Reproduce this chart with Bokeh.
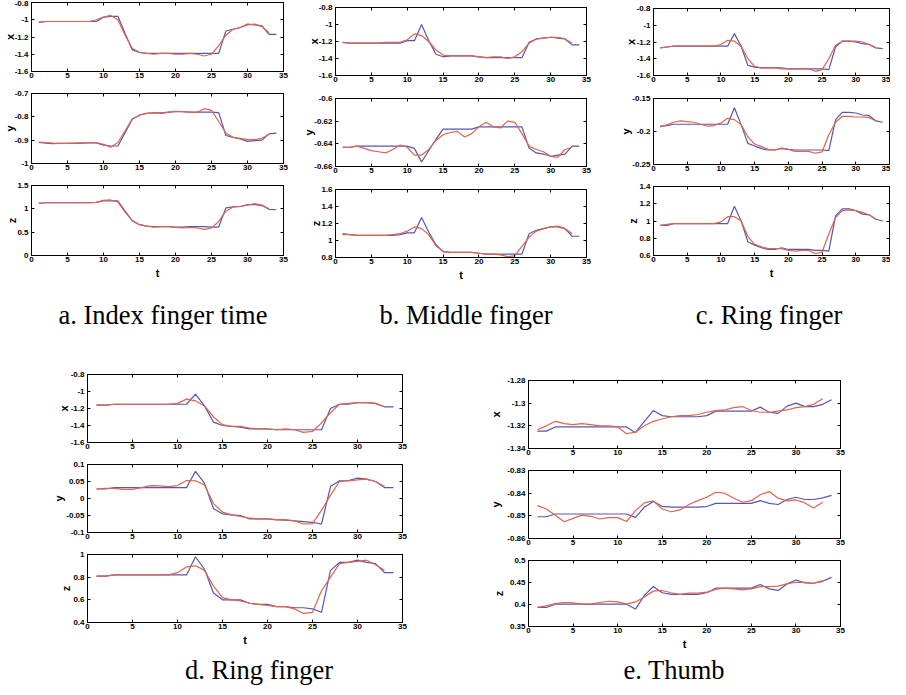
from bokeh.plotting import figure
from bokeh.models import LinearAxis, FixedTicker, Range1d, Spacer, Div
from bokeh.layouts import column, row
from bokeh.embed import file_html
from bokeh.resources import INLINE

# ---------------- data ----------------
t_blue = list(range(1, 35))
t_red = list(range(1, 34))
x_ticks = [0, 5, 10, 15, 20, 25, 30, 35]

# a. Index finger
a_x_blue = [-1.03, -1.02, -1.02, -1.02, -1.02, -1.02, -1.02, -1.02, -1.02, -0.97, -0.96, -0.96, -1.16, -1.35, -1.38, -1.39, -1.39, -1.39, -1.39, -1.39, -1.39, -1.39, -1.39, -1.39, -1.39, -1.39, -1.13, -1.11, -1.09, -1.05, -1.06, -1.07, -1.17, -1.17]
a_x_red = [-1.03, -1.02, -1.02, -1.02, -1.02, -1.02, -1.02, -1.02, -1.00, -0.97, -0.95, -1.00, -1.18, -1.33, -1.38, -1.39, -1.40, -1.39, -1.39, -1.40, -1.40, -1.39, -1.40, -1.42, -1.40, -1.30, -1.18, -1.11, -1.09, -1.06, -1.05, -1.08, -1.15]
a_y_blue = [-0.910, -0.913, -0.915, -0.914, -0.914, -0.914, -0.913, -0.912, -0.912, -0.921, -0.925, -0.925, -0.868, -0.810, -0.792, -0.785, -0.783, -0.783, -0.780, -0.778, -0.778, -0.780, -0.780, -0.780, -0.780, -0.782, -0.880, -0.888, -0.895, -0.905, -0.902, -0.900, -0.873, -0.870]
a_y_red = [-0.908, -0.910, -0.913, -0.914, -0.914, -0.913, -0.912, -0.911, -0.910, -0.918, -0.930, -0.910, -0.860, -0.808, -0.793, -0.785, -0.783, -0.785, -0.781, -0.776, -0.778, -0.780, -0.781, -0.765, -0.772, -0.820, -0.870, -0.888, -0.892, -0.898, -0.898, -0.892, -0.875]
a_z_blue = [1.12, 1.13, 1.13, 1.13, 1.13, 1.13, 1.13, 1.13, 1.14, 1.17, 1.17, 1.17, 0.95, 0.75, 0.66, 0.63, 0.62, 0.62, 0.62, 0.61, 0.61, 0.62, 0.62, 0.62, 0.61, 0.61, 1.02, 1.04, 1.05, 1.09, 1.09, 1.07, 0.99, 0.98]
a_z_red = [1.12, 1.13, 1.13, 1.13, 1.13, 1.13, 1.13, 1.13, 1.14, 1.18, 1.19, 1.15, 0.93, 0.74, 0.66, 0.63, 0.61, 0.62, 0.62, 0.60, 0.59, 0.60, 0.59, 0.56, 0.59, 0.73, 0.95, 1.04, 1.05, 1.08, 1.11, 1.08, 1.00]

# b. Middle finger
b_x_blue = [-1.21, -1.22, -1.22, -1.22, -1.22, -1.22, -1.22, -1.22, -1.22, -1.19, -1.19, -1.00, -1.19, -1.35, -1.38, -1.37, -1.37, -1.37, -1.37, -1.38, -1.39, -1.39, -1.39, -1.39, -1.39, -1.39, -1.21, -1.17, -1.16, -1.15, -1.16, -1.17, -1.24, -1.24]
b_x_red = [-1.21, -1.22, -1.22, -1.22, -1.22, -1.22, -1.21, -1.21, -1.21, -1.18, -1.11, -1.13, -1.20, -1.30, -1.36, -1.37, -1.37, -1.37, -1.37, -1.38, -1.39, -1.38, -1.38, -1.40, -1.38, -1.32, -1.22, -1.17, -1.16, -1.15, -1.15, -1.17, -1.22]
b_y_blue = [-0.643, -0.643, -0.642, -0.642, -0.642, -0.642, -0.642, -0.642, -0.642, -0.642, -0.644, -0.656, -0.646, -0.636, -0.627, -0.627, -0.627, -0.627, -0.627, -0.625, -0.625, -0.625, -0.625, -0.625, -0.625, -0.625, -0.644, -0.648, -0.649, -0.651, -0.650, -0.649, -0.642, -0.642]
b_y_red = [-0.643, -0.643, -0.642, -0.644, -0.646, -0.647, -0.648, -0.645, -0.641, -0.643, -0.650, -0.650, -0.645, -0.637, -0.632, -0.630, -0.629, -0.634, -0.631, -0.625, -0.621, -0.625, -0.626, -0.620, -0.621, -0.631, -0.642, -0.645, -0.647, -0.651, -0.652, -0.645, -0.643]
b_z_blue = [1.08, 1.07, 1.06, 1.06, 1.06, 1.06, 1.06, 1.06, 1.07, 1.09, 1.09, 1.27, 1.10, 0.95, 0.87, 0.86, 0.86, 0.86, 0.86, 0.85, 0.84, 0.84, 0.84, 0.84, 0.84, 0.84, 1.08, 1.12, 1.14, 1.16, 1.16, 1.14, 1.05, 1.05]
b_z_red = [1.07, 1.07, 1.06, 1.06, 1.06, 1.06, 1.06, 1.07, 1.08, 1.11, 1.16, 1.14, 1.07, 0.94, 0.87, 0.86, 0.86, 0.86, 0.86, 0.85, 0.84, 0.84, 0.83, 0.81, 0.82, 0.93, 1.04, 1.11, 1.14, 1.16, 1.17, 1.14, 1.08]

# c. Ring finger
c_x_blue = [-1.27, -1.26, -1.25, -1.25, -1.25, -1.25, -1.25, -1.25, -1.25, -1.25, -1.25, -1.10, -1.25, -1.48, -1.50, -1.51, -1.51, -1.51, -1.51, -1.52, -1.52, -1.52, -1.52, -1.52, -1.52, -1.53, -1.26, -1.19, -1.19, -1.20, -1.22, -1.23, -1.27, -1.28]
c_x_red = [-1.27, -1.26, -1.25, -1.25, -1.25, -1.25, -1.25, -1.25, -1.25, -1.23, -1.18, -1.19, -1.25, -1.40, -1.49, -1.51, -1.51, -1.51, -1.52, -1.52, -1.52, -1.52, -1.52, -1.55, -1.53, -1.40, -1.24, -1.19, -1.19, -1.19, -1.20, -1.23, -1.27]
c_y_blue = [-0.192, -0.191, -0.189, -0.189, -0.189, -0.189, -0.189, -0.189, -0.189, -0.189, -0.189, -0.164, -0.190, -0.218, -0.222, -0.226, -0.228, -0.228, -0.225, -0.227, -0.228, -0.228, -0.228, -0.228, -0.228, -0.229, -0.182, -0.171, -0.171, -0.172, -0.175, -0.176, -0.184, -0.186]
c_y_red = [-0.193, -0.190, -0.186, -0.184, -0.185, -0.186, -0.189, -0.192, -0.191, -0.187, -0.180, -0.182, -0.190, -0.208, -0.219, -0.223, -0.227, -0.228, -0.226, -0.227, -0.230, -0.230, -0.230, -0.233, -0.231, -0.205, -0.186, -0.177, -0.177, -0.178, -0.178, -0.179, -0.184]
c_z_blue = [0.95, 0.95, 0.97, 0.97, 0.97, 0.97, 0.97, 0.97, 0.97, 0.97, 0.97, 1.17, 1.00, 0.76, 0.72, 0.69, 0.67, 0.67, 0.69, 0.67, 0.67, 0.67, 0.67, 0.66, 0.66, 0.65, 1.06, 1.14, 1.14, 1.12, 1.08, 1.07, 1.02, 1.00]
c_z_red = [0.95, 0.96, 0.97, 0.97, 0.97, 0.97, 0.97, 0.97, 0.97, 0.99, 1.05, 1.05, 1.00, 0.82, 0.73, 0.70, 0.68, 0.68, 0.68, 0.66, 0.65, 0.66, 0.66, 0.62, 0.64, 0.85, 1.04, 1.12, 1.13, 1.12, 1.10, 1.07, 1.02]

# d. Ring finger
d_x_blue = [-1.16, -1.16, -1.15, -1.15, -1.15, -1.15, -1.15, -1.15, -1.15, -1.15, -1.15, -1.03, -1.17, -1.36, -1.40, -1.41, -1.42, -1.44, -1.44, -1.44, -1.45, -1.45, -1.45, -1.45, -1.45, -1.45, -1.20, -1.15, -1.15, -1.13, -1.13, -1.14, -1.18, -1.18]
d_x_red = [-1.16, -1.16, -1.15, -1.15, -1.15, -1.15, -1.15, -1.15, -1.15, -1.14, -1.09, -1.11, -1.17, -1.30, -1.39, -1.41, -1.41, -1.43, -1.44, -1.44, -1.45, -1.44, -1.45, -1.48, -1.47, -1.37, -1.25, -1.15, -1.14, -1.13, -1.13, -1.14, -1.18]
d_y_blue = [0.028, 0.028, 0.032, 0.032, 0.032, 0.032, 0.032, 0.032, 0.032, 0.032, 0.032, 0.080, 0.045, -0.030, -0.045, -0.048, -0.050, -0.060, -0.060, -0.060, -0.063, -0.064, -0.066, -0.068, -0.070, -0.075, 0.035, 0.052, 0.053, 0.060, 0.057, 0.050, 0.032, 0.032]
d_y_red = [0.028, 0.030, 0.030, 0.027, 0.027, 0.032, 0.038, 0.037, 0.035, 0.038, 0.053, 0.052, 0.040, -0.015, -0.040, -0.048, -0.053, -0.058, -0.060, -0.060, -0.062, -0.062, -0.066, -0.075, -0.074, -0.035, 0.010, 0.050, 0.052, 0.055, 0.057, 0.050, 0.035]
d_z_blue = [0.81, 0.81, 0.82, 0.82, 0.82, 0.82, 0.82, 0.82, 0.82, 0.82, 0.82, 0.98, 0.87, 0.66, 0.60, 0.60, 0.60, 0.57, 0.56, 0.56, 0.54, 0.54, 0.53, 0.53, 0.52, 0.49, 0.86, 0.93, 0.93, 0.95, 0.93, 0.92, 0.84, 0.84]
d_z_red = [0.81, 0.81, 0.82, 0.82, 0.82, 0.82, 0.82, 0.82, 0.82, 0.84, 0.89, 0.90, 0.86, 0.72, 0.62, 0.60, 0.59, 0.57, 0.56, 0.55, 0.54, 0.54, 0.52, 0.48, 0.49, 0.68, 0.80, 0.92, 0.93, 0.94, 0.95, 0.91, 0.86]

# e. Thumb
e_x_blue = [-1.3247, -1.3247, -1.321, -1.321, -1.321, -1.321, -1.321, -1.321, -1.321, -1.321, -1.321, -1.326, -1.316, -1.3065, -1.311, -1.312, -1.312, -1.312, -1.312, -1.311, -1.307, -1.307, -1.307, -1.307, -1.307, -1.3035, -1.308, -1.309, -1.3026, -1.300, -1.303, -1.303, -1.301, -1.297]
e_x_red = [-1.3235, -1.320, -1.316, -1.318, -1.319, -1.318, -1.319, -1.320, -1.320, -1.321, -1.327, -1.3256, -1.320, -1.316, -1.314, -1.312, -1.311, -1.311, -1.310, -1.308, -1.3065, -1.306, -1.304, -1.303, -1.3065, -1.308, -1.308, -1.307, -1.306, -1.304, -1.303, -1.301, -1.296]
e_y_blue = [-0.8504, -0.8504, -0.8492, -0.8492, -0.8492, -0.8492, -0.8492, -0.8492, -0.8492, -0.8492, -0.8492, -0.8507, -0.8462, -0.8437, -0.8458, -0.8462, -0.8462, -0.8462, -0.8462, -0.8459, -0.8445, -0.8445, -0.8445, -0.8445, -0.8445, -0.8433, -0.8445, -0.8450, -0.8428, -0.8418, -0.8428, -0.8428, -0.8421, -0.8410]
e_y_red = [-0.8455, -0.8470, -0.8497, -0.8526, -0.8511, -0.8497, -0.8502, -0.8514, -0.8508, -0.8508, -0.8525, -0.8477, -0.8443, -0.8434, -0.8470, -0.8482, -0.8474, -0.8450, -0.8433, -0.8418, -0.8396, -0.8400, -0.8421, -0.8440, -0.8433, -0.8407, -0.8393, -0.8422, -0.8434, -0.8430, -0.8443, -0.8465, -0.8440]
e_z_blue = [0.3933, 0.3933, 0.4007, 0.4007, 0.4007, 0.4007, 0.4007, 0.4007, 0.4007, 0.4007, 0.4007, 0.3896, 0.4208, 0.4408, 0.4267, 0.4230, 0.4230, 0.4230, 0.4230, 0.4267, 0.4371, 0.4371, 0.4371, 0.4371, 0.4371, 0.4453, 0.4356, 0.4319, 0.4468, 0.4557, 0.4490, 0.4483, 0.4527, 0.4616]
e_z_red = [0.3933, 0.3970, 0.4022, 0.4045, 0.4037, 0.4007, 0.4007, 0.4045, 0.4074, 0.4059, 0.4007, 0.4059, 0.4171, 0.4304, 0.4319, 0.4267, 0.4230, 0.4260, 0.4260, 0.4282, 0.4341, 0.4371, 0.4356, 0.4334, 0.4356, 0.4408, 0.4408, 0.4416, 0.4468, 0.4505, 0.4505, 0.4483, 0.4542]

# y tick values and labels per subplot
yt_pos16 = [-1.6, -1.4, -1.2, -1.0, -0.8]
yl_pos16 = ["-1.6", "-1.4", "-1.2", "-1", "-0.8"]
a_y_ticks = [-1.0, -0.9, -0.8, -0.7]
a_y_labels = ["-1", "-0.9", "-0.8", "-0.7"]
a_z_ticks = [0.0, 0.5, 1.0, 1.5]
a_z_labels = ["0", "0.5", "1", "1.5"]
b_y_ticks = [-0.66, -0.64, -0.62, -0.6]
b_y_labels = ["-0.66", "-0.64", "-0.62", "-0.6"]
b_z_ticks = [0.8, 1.0, 1.2, 1.4, 1.6]
b_z_labels = ["0.8", "1", "1.2", "1.4", "1.6"]
c_y_ticks = [-0.25, -0.2, -0.15]
c_y_labels = ["-0.25", "-0.2", "-0.15"]
c_z_ticks = [0.6, 0.8, 1.0, 1.2, 1.4]
c_z_labels = ["0.6", "0.8", "1", "1.2", "1.4"]
d_y_ticks = [-0.1, -0.05, 0.0, 0.05, 0.1]
d_y_labels = ["-0.1", "-0.05", "0", "0.05", "0.1"]
d_z_ticks = [0.4, 0.6, 0.8, 1.0]
d_z_labels = ["0.4", "0.6", "0.8", "1"]
e_x_ticks = [-1.34, -1.32, -1.3, -1.28]
e_x_labels = ["-1.34", "-1.32", "-1.3", "-1.28"]
e_y_ticks = [-0.86, -0.85, -0.84, -0.83]
e_y_labels = ["-0.86", "-0.85", "-0.84", "-0.83"]
e_z_ticks = [0.35, 0.4, 0.45, 0.5]
e_z_labels = ["0.35", "0.4", "0.45", "0.5"]

captions = ["a. Index finger time", "b. Middle finger", "c. Ring finger", "d. Ring finger", "e. Thumb"]

# ---------------- style ----------------
BLUE = "#5656b8"
RED = "#e0644a"
TICK_FONT = "Liberation Sans"
TICK_SIZE = "8px"


def subplot(w, h, left, right, top, bottom, yticks, ylabels, ylab, blue, red, last, lab_std):
    p = figure(width=w, height=h, x_range=Range1d(0, 35),
               y_range=Range1d(yticks[0], yticks[-1]),
               output_backend="svg", toolbar_location=None,
               min_border_left=left, min_border_right=right,
               min_border_top=top, min_border_bottom=bottom,
               background_fill_color="white", border_fill_color="white")
    p.xgrid.visible = False
    p.ygrid.visible = False
    p.outline_line_color = "black"
    p.outline_line_width = 1
    p.outline_line_alpha = 1

    xa = p.xaxis[0]
    xa.ticker = FixedTicker(ticks=x_ticks)
    ya = p.yaxis[0]
    ya.ticker = FixedTicker(ticks=yticks)
    ya.major_label_overrides = dict(zip(yticks, ylabels))
    for ax in (xa, ya):
        ax.major_tick_in = 3
        ax.major_tick_out = 0
        ax.minor_tick_line_color = None
        ax.axis_line_color = "black"
        ax.major_tick_line_color = "black"
        ax.major_label_text_font = TICK_FONT
        ax.major_label_text_font_size = TICK_SIZE
        ax.major_label_text_font_style = "bold"
        ax.major_label_text_color = "black"
        ax.axis_label_text_font = TICK_FONT
        ax.axis_label_text_font_size = "11px"
        ax.axis_label_text_font_style = "bold"
        ax.axis_label_text_color = "black"
    xa.major_label_standoff = 1
    ya.major_label_standoff = 3
    ya.axis_label = ylab
    ya.axis_label_standoff = lab_std
    if last:
        xa.axis_label = "t"
        xa.axis_label_standoff = 2

    for loc, ticks in (("above", x_ticks), ("right", yticks)):
        ax = LinearAxis(ticker=FixedTicker(ticks=ticks), major_tick_in=3, major_tick_out=0,
                        minor_tick_line_color=None, major_label_text_font_size="0px",
                        major_label_standoff=0, axis_line_color="black",
                        major_tick_line_color="black",
                        major_label_overrides={tk: "" for tk in ticks})
        p.add_layout(ax, loc)

    p.line(t_blue, blue, line_color=BLUE, line_width=1.2)
    p.line(t_red, red, line_color=RED, line_width=1.2)
    return p


def panel(cx0, cx1, fx0, fx1, frames, row_top, row_bot, specs, lab_std):
    figs = []
    n = len(frames)
    for i, ((ft, fb), spec) in enumerate(zip(frames, specs)):
        tb = row_top if i == 0 else frames[i - 1][1] + 12
        bb = row_bot if i == n - 1 else fb + 12
        yticks, ylabels, ylab, blue, red = spec
        figs.append(subplot(cx1 - cx0, bb - tb, fx0 - cx0, cx1 - fx1, ft - tb, bb - fb,
                            yticks, ylabels, ylab, blue, red, i == n - 1, lab_std))
    return column(*figs, spacing=0)


def caption(txt, w, h, off):
    html = ('<div style="width:%dpx;height:%dpx;text-align:center;font-family:\'Liberation Serif\',\'Times New Roman\',serif;'
            'font-size:26.5px;line-height:%dpx;white-space:nowrap;color:#000;">'
            '<span style="position:relative;top:%dpx;">%s</span></div>'
            % (w, h, h, off, txt))
    return Div(text=html, width=w, height=h, margin=(0, 0, 0, 0))


# ---------------- layout (page pixel coordinates) ----------------
colA = panel(0, 300, 24, 283, [(2, 71), (93, 163), (185, 255)], 0, 284,
             [(yt_pos16, yl_pos16, "x", a_x_blue, a_x_red),
              (a_y_ticks, a_y_labels, "y", a_y_blue, a_y_red),
              (a_z_ticks, a_z_labels, "z", a_z_blue, a_z_red)], -4)
colB = panel(300, 617, 329, 586, [(7, 75), (98, 166), (189, 257)], 0, 284,
             [(yt_pos16, yl_pos16, "x", b_x_blue, b_x_red),
              (b_y_ticks, b_y_labels, "y", b_y_blue, b_y_red),
              (b_z_ticks, b_z_labels, "z", b_z_blue, b_z_red)], -4)
colC = panel(617, 890, 647, 889, [(8, 75), (98, 164), (186, 255)], 0, 284,
             [(yt_pos16, yl_pos16, "x", c_x_blue, c_x_red),
              (c_y_ticks, c_y_labels, "y", c_y_blue, c_y_red),
              (c_z_ticks, c_z_labels, "z", c_z_blue, c_z_red)], -3)
row1 = row(colA, colB, colC, spacing=0)

cap1 = row(Spacer(width=33, height=30), caption(captions[0], 260, 30, 0),
           Spacer(width=43, height=30), caption(captions[1], 260, 30, 0),
           Spacer(width=53, height=30), caption(captions[2], 240, 30, 0), spacing=0)

colD = panel(50, 460, 86, 402, [(374, 442), (464, 532), (554, 622)], 330, 652,
             [(yt_pos16, yl_pos16, "x", d_x_blue, d_x_red),
              (d_y_ticks, d_y_labels, "y", d_y_blue, d_y_red),
              (d_z_ticks, d_z_labels, "z", d_z_blue, d_z_red)], -2)
colE = panel(460, 860, 528, 840, [(380, 448), (470, 538), (560, 627)], 330, 652,
             [(e_x_ticks, e_x_labels, "x", e_x_blue, e_x_red),
              (e_y_ticks, e_y_labels, "y", e_y_blue, e_y_red),
              (e_z_ticks, e_z_labels, "z", e_z_blue, e_z_red)], 2)
row2 = row(Spacer(width=50, height=322), colD, colE, spacing=0)

cap2 = row(Spacer(width=129, height=27), caption(captions[3], 260, 27, 5),
           Spacer(width=155, height=27), caption(captions[4], 260, 27, 5), spacing=0)

root = column(row1, Spacer(width=10, height=16), cap1, row2, cap2, spacing=0)

open("out.html", "w").write(file_html(root, INLINE))
